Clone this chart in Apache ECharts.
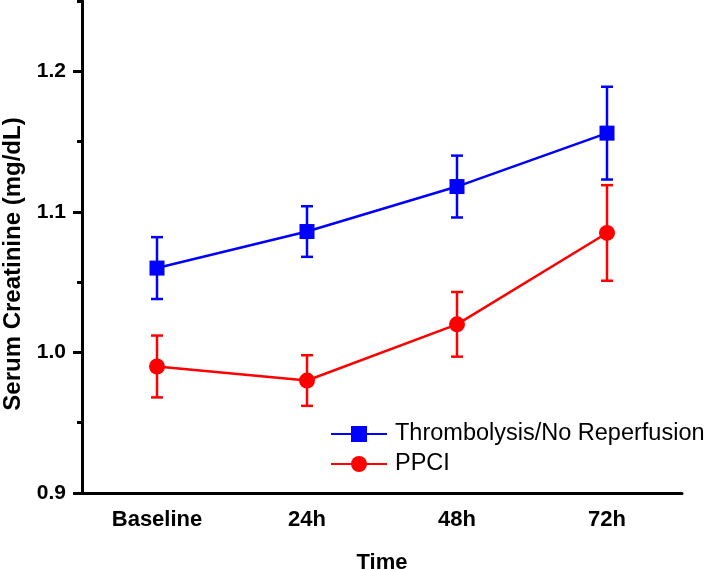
<!DOCTYPE html>
<html>
<head>
<meta charset="utf-8">
<script src="https://cdn.jsdelivr.net/npm/echarts@6/dist/echarts.min.js"></script>
<style>
  html, body { margin: 0; padding: 0; background: #fff; }
  #chart { width: 709px; height: 570px; }
</style>
</head>
<body>
<div id="chart"></div>
<script>
// time points
var categories = ['Baseline', '24h', '48h', '72h'];
// Thrombolysis/No Reperfusion
var thrombMean = [1.060, 1.086, 1.118, 1.156];
var thrombErr = [0.022, 0.018, 0.022, 0.033];
// PPCI
var ppciMean = [0.990, 0.980, 1.020, 1.085];
var ppciErr = [0.022, 0.018, 0.023, 0.034];

var FONT = 'Liberation Sans, Arial, sans-serif';

// error bars drawn with the axis scales
function errSeries(mean, err, color) {
    var data = mean.map(function (m, i) { return [i, m - err[i], m + err[i]]; });
    return {
        type: 'custom',
        z: 1,
        silent: true,
        data: data,
        renderItem: function (params, api) {
            var lo = api.coord([api.value(0), api.value(1)]);
            var hi = api.coord([api.value(0), api.value(2)]);
            var w = 6;
            var st = { stroke: color, lineWidth: 2.5 };
            return {
                type: 'group',
                children: [
                    { type: 'line', shape: { x1: lo[0], y1: lo[1], x2: hi[0], y2: hi[1] }, style: st },
                    { type: 'line', shape: { x1: lo[0] - w, y1: lo[1], x2: lo[0] + w, y2: lo[1] }, style: st },
                    { type: 'line', shape: { x1: hi[0] - w, y1: hi[1], x2: hi[0] + w, y2: hi[1] }, style: st }
                ]
            };
        }
    };
}

var chart = echarts.init(document.getElementById('chart'));
var option = {
    animation: false,
    grid: { left: 82, right: 27, top: 1, bottom: 77, containLabel: false, outerBoundsMode: 'none' },
    legend: {
        orient: 'vertical',
        left: 325,
        top: 417,
        itemWidth: 56,
        itemHeight: 20,
        itemGap: 6,
        textStyle: { fontFamily: FONT, fontSize: 23.5, color: '#000', padding: [0, 0, 0, 3] },
        data: ['Thrombolysis/No Reperfusion', 'PPCI']
    },
    xAxis: [
        {
            type: 'category',
            data: categories,
            boundaryGap: true,
            name: 'Time',
            nameLocation: 'middle',
            nameGap: 59,
            nameTextStyle: { fontFamily: FONT, fontSize: 22, fontWeight: 'bold', color: '#000' },
            axisLine: { lineStyle: { color: '#000', width: 3 } },
            axisTick: { alignWithLabel: true, length: 9, lineStyle: { color: '#000', width: 3 } },
            axisLabel: { margin: 16, fontFamily: FONT, fontSize: 22, fontWeight: 'bold', color: '#000' },
            splitLine: { show: false }
        },
        {
            type: 'category',
            data: categories,
            position: 'bottom',
            boundaryGap: true,
            axisLine: { show: false },
            axisTick: { length: 5, lineStyle: { color: '#000', width: 3 } },
            axisLabel: { show: false },
            splitLine: { show: false }
        }
    ],
    yAxis: [
        {
            type: 'value',
            min: 0.9,
            max: 1.25,
            interval: 0.1,
            name: 'Serum Creatinine (mg/dL)',
            nameLocation: 'middle',
            nameGap: 57,
            nameTextStyle: {
                fontFamily: FONT, fontSize: 24, fontWeight: 'bold', color: '#000',
                padding: [0, 34, 0, 0]
            },
            axisLine: { show: true, lineStyle: { color: '#000', width: 3 } },
            axisTick: { show: true, length: 9, lineStyle: { color: '#000', width: 3 } },
            axisLabel: {
                margin: 16, fontFamily: FONT, fontSize: 21, fontWeight: 'bold', color: '#000',
                showMaxLabel: false,
                formatter: function (v) { return v.toFixed(1); }
            },
            splitLine: { show: false }
        },
        {
            type: 'value',
            min: 0.9,
            max: 1.25,
            interval: 0.05,
            position: 'left',
            axisLine: { show: false },
            axisTick: { show: true, length: 5, lineStyle: { color: '#000', width: 3 } },
            axisLabel: { show: false },
            splitLine: { show: false }
        }
    ],
    series: [
        errSeries(thrombMean, thrombErr, '#0000ff'),
        errSeries(ppciMean, ppciErr, '#ff0000'),
        {
            name: 'Thrombolysis/No Reperfusion',
            type: 'line',
            z: 3,
            data: thrombMean,
            symbol: 'rect',
            symbolSize: 15,
            itemStyle: { color: '#0000ff' },
            lineStyle: { color: '#0000ff', width: 2.5 }
        },
        {
            name: 'PPCI',
            type: 'line',
            z: 3,
            data: ppciMean,
            symbol: 'circle',
            symbolSize: 16,
            itemStyle: { color: '#ff0000' },
            lineStyle: { color: '#ff0000', width: 2.5 }
        }
    ]
};
chart.setOption(option);
</script>
</body>
</html>
